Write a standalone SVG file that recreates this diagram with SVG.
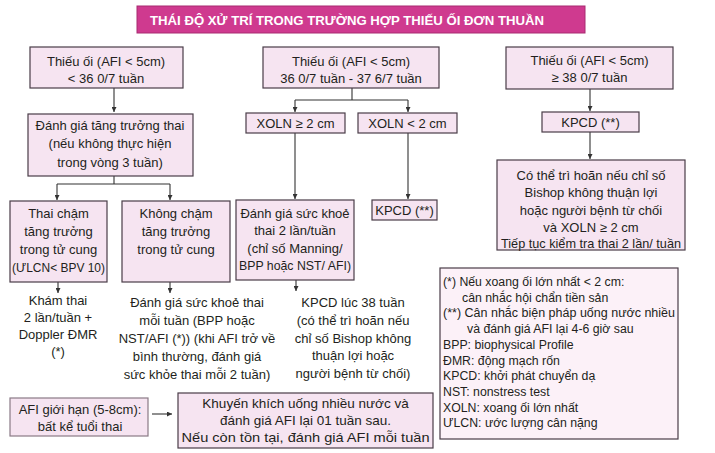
<svg xmlns="http://www.w3.org/2000/svg" width="715" height="453" viewBox="0 0 715 453">
<style>
.bx{fill:#f6e4f1;stroke:#4a3d48;stroke-width:1.2}
.lg{fill:#fcf1f8;stroke:#4a3d48;stroke-width:1.2}
.t{font-family:"Liberation Sans",Arial,sans-serif;font-size:13px;fill:#231f20;text-anchor:middle}
.l{font-family:"Liberation Sans",Arial,sans-serif;font-size:12.3px;fill:#231f20}
.ln{stroke:#333;stroke-width:1.1;fill:none}
.ar{stroke:#333;stroke-width:1.1;fill:none;marker-end:url(#ah)}
.ti{font-family:"Liberation Sans",Arial,sans-serif;font-size:12.5px;font-weight:bold;fill:#fff}
</style>
<defs>
<marker id="ah" viewBox="0 0 10 10" refX="10" refY="5" markerWidth="5" markerHeight="5" orient="auto" markerUnits="userSpaceOnUse">
<path d="M0,0 L10,5 L0,10 z" fill="#333"/>
</marker>
</defs>
<rect width="715" height="453" fill="#fff"/>
<g id="title">
<rect x="137" y="6" width="448" height="27" fill="#cf3a8f" stroke="#a82a70" stroke-width="1"/>
<text class="ti" x="150" y="24.5" textLength="394" lengthAdjust="spacingAndGlyphs">THÁI ĐỘ XỬ TRÍ  TRONG TRƯỜNG HỢP THIẾU ỐI ĐƠN THUẦN</text>
</g>
<g id="connectors">
<path class="ar" d="M114,88 V112"/>
<path class="ln" d="M114,176 V184 M57,184 H170"/>
<path class="ar" d="M57,184 V200"/>
<path class="ar" d="M170,184 V200"/>
<path class="ar" d="M58,282 V293"/>
<path class="ar" d="M170,282 V293"/>
<path class="ln" d="M352,88 V100 M295,100 H408"/>
<path class="ar" d="M295,100 V112"/>
<path class="ar" d="M408,100 V112"/>
<path class="ar" d="M295,133 V199"/>
<path class="ar" d="M408,133 V199"/>
<path class="ar" d="M296,280 V291"/>
<path class="ar" d="M590,89 V111"/>
<path class="ar" d="M590,132 V159"/>
<path class="ar" d="M152,414 H172"/>
</g>
<g id="n1">
<rect class="bx" x="30" y="47" width="153" height="41"/>
<text class="t" x="106" y="66">Thiếu ối (AFI &lt; 5cm)</text>
<text class="t" x="106" y="82.5">&lt; 36 0/7 tuần</text>
</g>
<g id="n2">
<rect class="bx" x="28" y="114" width="165" height="62"/>
<text class="t" x="110" y="129.5">Đánh giá tăng trưởng thai</text>
<text class="t" x="110" y="148">(nếu không thực hiện</text>
<text class="t" x="110" y="166.5">trong vòng 3 tuần)</text>
</g>
<g id="n3">
<rect class="bx" x="10" y="201" width="97" height="81"/>
<text class="t" x="58.5" y="217.5">Thai chậm</text>
<text class="t" x="58.5" y="235.5">tăng trưởng</text>
<text class="t" x="58.5" y="253.5">trong tử cung</text>
<text class="t" x="58.5" y="271.5" textLength="93" lengthAdjust="spacingAndGlyphs">(ƯLCN&lt; BPV 10)</text>
</g>
<g id="n4">
<rect class="bx" x="122" y="201" width="108" height="81"/>
<text class="t" x="176" y="217.5">Không chậm</text>
<text class="t" x="176" y="235.5">tăng trưởng</text>
<text class="t" x="176" y="253.5">trong tử cung</text>
</g>
<g id="n5">
<text class="t" x="58" y="305">Khám thai</text>
<text class="t" x="58" y="322">2 lần/tuần +</text>
<text class="t" x="58" y="339">Doppler ĐMR</text>
<text class="t" x="58" y="356">(*)</text>
</g>
<g id="n6">
<text class="t" x="197" y="306.5">Đánh giá sức khoẻ thai</text>
<text class="t" x="197" y="324.5">mỗi tuần (BPP hoặc</text>
<text class="t" x="197" y="342.5">NST/AFI (*)) (khi AFI trở về</text>
<text class="t" x="197" y="360.5">bình thường, đánh giá</text>
<text class="t" x="197" y="378.5">sức khỏe thai mỗi 2 tuần)</text>
</g>
<g id="n7">
<rect class="bx" x="263" y="47" width="176" height="41"/>
<text class="t" x="351" y="66">Thiếu ối (AFI &lt; 5cm)</text>
<text class="t" x="351" y="82.5">36 0/7 tuần - 37 6/7 tuần</text>
</g>
<g id="n8">
<rect class="bx" x="246" y="113" width="99" height="20"/>
<text class="t" x="295.5" y="127.8">XOLN ≥ 2 cm</text>
</g>
<g id="n9">
<rect class="bx" x="358" y="113" width="99" height="20"/>
<text class="t" x="407.5" y="127.8">XOLN &lt; 2 cm</text>
</g>
<g id="n10">
<rect class="bx" x="236" y="200" width="118" height="80"/>
<text class="t" x="295" y="217.5">Đánh giá sức khoẻ</text>
<text class="t" x="295" y="235">thai 2 lần/tuần</text>
<text class="t" x="295" y="252.5">(chỉ số Manning/</text>
<text class="t" x="295" y="270" textLength="112" lengthAdjust="spacingAndGlyphs">BPP hoặc  NST/ AFI)</text>
</g>
<g id="n11">
<rect class="bx" x="372" y="200" width="65" height="20"/>
<text class="t" x="404.5" y="214.8">KPCD (**)</text>
</g>
<g id="n12">
<text class="t" x="353" y="306.5">KPCD lúc 38 tuần</text>
<text class="t" x="353" y="324.5">(có thể trì hoãn nếu</text>
<text class="t" x="353" y="342.5">chỉ số Bishop không</text>
<text class="t" x="353" y="359.5">thuận lợi hoặc</text>
<text class="t" x="353" y="377.5">người bệnh từ chối)</text>
</g>
<g id="n13">
<rect class="bx" x="506" y="47" width="167" height="42"/>
<text class="t" x="589.5" y="65">Thiếu ối (AFI &lt; 5cm)</text>
<text class="t" x="589.5" y="82">≥ 38 0/7 tuần</text>
</g>
<g id="n14">
<rect class="bx" x="542" y="112" width="97" height="20"/>
<text class="t" x="590.5" y="126.8">KPCD (**)</text>
</g>
<g id="n15">
<rect class="bx" x="497" y="160" width="188" height="90"/>
<text class="t" x="591" y="179.5">Có thể trì hoãn nếu chỉ số</text>
<text class="t" x="591" y="197">Bishop không thuận lợi</text>
<text class="t" x="591" y="214.5">hoặc người  bệnh từ chối</text>
<text class="t" x="591" y="231.5">và XOLN ≥ 2 cm</text>
<text class="t" x="591" y="247.5" textLength="180" lengthAdjust="spacingAndGlyphs">Tiếp tục kiểm tra thai 2 lần/ tuần</text>
</g>
<g id="legend">
<rect class="lg" x="440" y="268" width="238" height="171"/>
<text class="l" x="443" y="286">(*) Nếu xoang ối lớn nhất &lt; 2 cm:</text>
<text class="l" x="462" y="301.7">cân nhắc hội chẩn tiền sản</text>
<text class="l" x="443" y="317.4" textLength="232" lengthAdjust="spacingAndGlyphs">(**) Cân nhắc biện pháp uống nước nhiều</text>
<text class="l" x="467" y="333.1">và đánh giá AFI lại 4-6 giờ sau</text>
<text class="l" x="443" y="348.8">BPP: biophysical Profile</text>
<text class="l" x="443" y="364.5">ĐMR: động mạch rốn</text>
<text class="l" x="443" y="380.2">KPCD: khởi phát chuyển dạ</text>
<text class="l" x="443" y="395.9">NST: nonstress test</text>
<text class="l" x="443" y="411.6">XOLN: xoang ối lớn nhất</text>
<text class="l" x="443" y="427.3">ƯLCN: ước lượng cân nặng</text>
</g>
<g id="n16">
<rect class="bx" x="10" y="398" width="138" height="38" style="stroke:#8a7a86"/>
<text class="t" x="80" y="414">AFI giới hạn (5-8cm):</text>
<text class="t" x="80" y="430.5">bất kể tuổi thai</text>
</g>
<g id="n17">
<rect class="bx" x="178" y="393" width="255" height="55"/>
<text class="t" x="305.5" y="407.5" style="font-size:13.5px">Khuyến khích uống nhiều nước và</text>
<text class="t" x="305.5" y="424.5" style="font-size:13.5px">đánh giá AFI lại 01 tuần sau.</text>
<text class="t" x="305.5" y="441.5" style="font-size:13.5px" textLength="248" lengthAdjust="spacingAndGlyphs">Nếu còn tồn tại, đánh giá AFI mỗi tuần</text>
</g>
</svg>
